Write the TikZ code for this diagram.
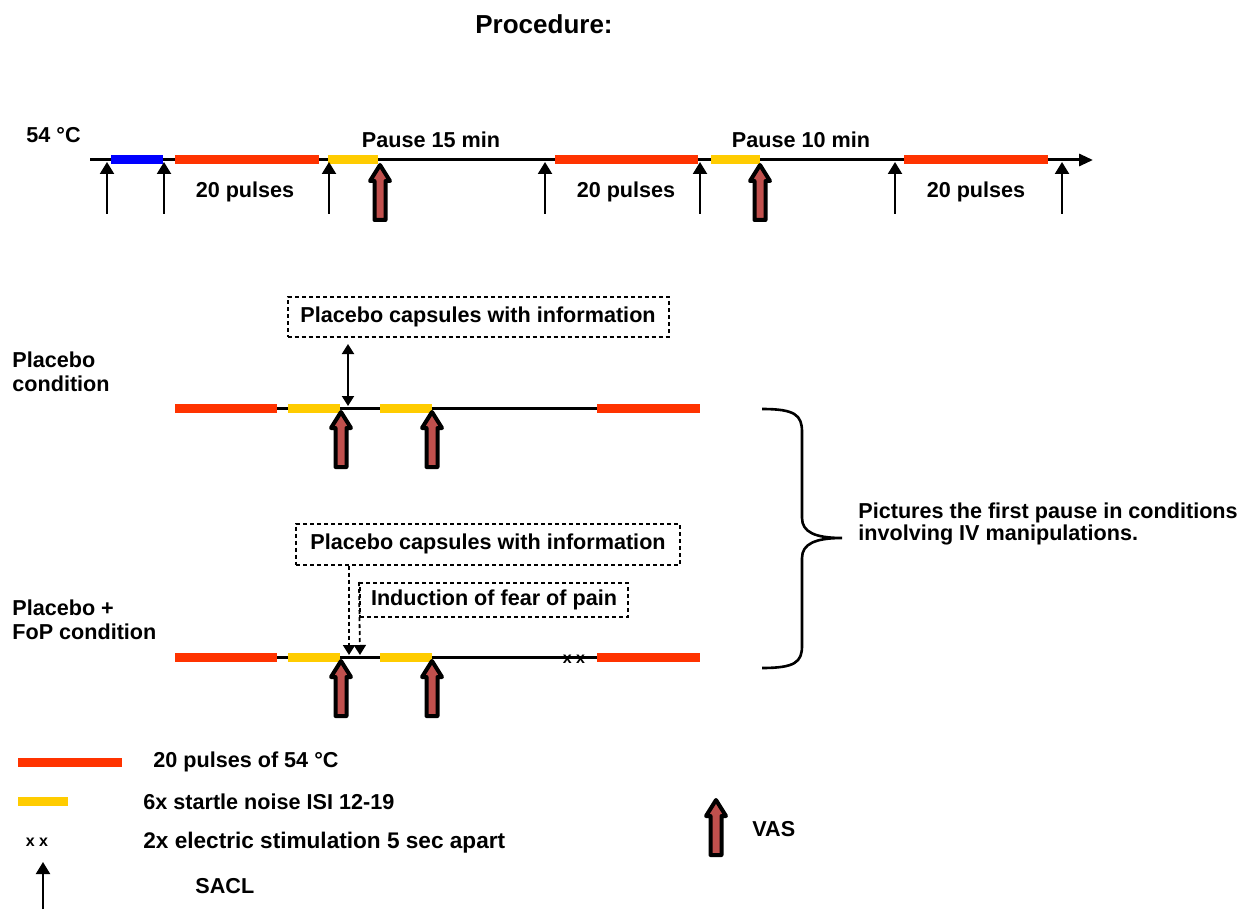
\documentclass[tikz,border=0pt]{standalone}
\usepackage{fontspec}
\setmainfont{Liberation Sans}
\usetikzlibrary{arrows.meta}

\definecolor{pulsered}{RGB}{255,51,0}
\definecolor{noiseyellow}{RGB}{255,204,0}
\definecolor{calibblue}{RGB}{0,0,255}
\definecolor{vasred}{RGB}{192,80,77}

\tikzset{
  timeline/.style={line width=1.5pt},
  pulsebar/.style={line width=4.5pt, draw=pulsered},
  noisebar/.style={line width=4.5pt, draw=noiseyellow},
  calibbar/.style={line width=4.5pt, draw=calibblue},
  sacl/.style={line width=1.1pt, -{Triangle[length=6pt,width=7pt]}},
  lbl/.style={font=\bfseries\fontsize{10.8}{12}\selectfont, inner sep=0pt},
  infobox/.style={lbl, draw, dash pattern=on 2pt off 1.5pt, line width=1pt},
  infoarrow/.style={line width=0.9pt, dash pattern=on 2pt off 1.5pt,
    -{Triangle[length=5pt,width=6pt]}},
  vas/.pic={
    \draw[fill=vasred, line width=2pt, line join=round]
      (0,0) -- (10,16) -- (5.5,16) -- (5.5,55) -- (-5.5,55) -- (-5.5,16) -- (-10,16) -- cycle;
  }
}

\begin{document}
\begin{tikzpicture}[x=0.5pt, y=-0.5pt]
        \useasboundingbox (0,0) rectangle (1251,909);

        % Step 1: title
        \node[lbl, font=\bfseries\fontsize{13}{15}\selectfont] (title) at (544,24) {Procedure:};

        % Step 2: whole session timeline
        \coordinate (t0) at (90,160);
        \coordinate (t1) at (1093,160);
        \draw[timeline, -{Triangle[length=7pt,width=6pt]}] (t0) -- (t1);
        \draw[calibbar] (111,160) -- (163,160);
        \draw[pulsebar] (175,160) -- (319,160);
        \draw[noisebar] (328,160) -- (378,160);
        \draw[pulsebar] (555,160) -- (698,160);
        \draw[noisebar] (711,160) -- (760,160);
        \draw[pulsebar] (904,160) -- (1048,160);
        \node[lbl, anchor=west] (temp) at (26,135) {54 °C};
        \node[lbl] (pause1) at (431,140) {Pause 15 min};
        \node[lbl] (pause2) at (801,140) {Pause 10 min};
        \foreach \x [count=\i] in {245,626,976}
            \node[lbl] (block\i) at (\x,192) {20 pulses};

        % Step 3: SACL and VAS marks on the timeline
        \foreach \x [count=\i] in {107,164,329,545,700,895,1062} {
            \coordinate (sacl\i) at (\x,214);
            \draw[sacl] (sacl\i) -- ++(0,-52);
        }
        \pic at (380,165) {vas};
        \pic at (760,165) {vas};

        % Step 4: placebo condition
        \node[lbl, anchor=west, align=left] (plc) at (12,372) {Placebo\\condition};
        \coordinate (pa) at (175,408);
        \coordinate (pb) at (700,408);
        \draw[timeline] (pa) -- (pb);
        \draw[pulsebar] (175,408) -- (277,408);
        \draw[noisebar] (288,408) -- (340,408);
        \draw[noisebar] (380,408) -- (432,408);
        \draw[pulsebar] (597,408) -- (700,408);
        \pic at (341,412) {vas};
        \pic at (432,412) {vas};
        \node[infobox, minimum width=190.5pt, minimum height=20pt] (caps1) at (478,317)
            {Placebo capsules with information};
        \coordinate (pin1) at (348,406);
        \draw[line width=1pt, {Triangle[length=5pt,width=6pt]}-{Triangle[length=5pt,width=6pt]}]
            (caps1.south -| pin1) ++(0,6) -- (pin1);

        % Step 5: placebo + fear of pain condition
        \node[lbl, anchor=west, align=left] (fop) at (12,620) {Placebo +\\FoP condition};
        \coordinate (fa) at (175,657);
        \coordinate (fb) at (700,657);
        \draw[timeline] (fa) -- (fb);
        \draw[pulsebar] (175,657) -- (277,657);
        \draw[noisebar] (288,657) -- (340,657);
        \draw[noisebar] (380,657) -- (432,657);
        \draw[pulsebar] (597,657) -- (700,657);
        \pic at (341,661) {vas};
        \pic at (432,661) {vas};
        \node[lbl, font=\bfseries\fontsize{8}{8}\selectfont] (shock) at (574,659) {x x};
        \node[infobox, minimum width=192pt, minimum height=20.5pt] (caps2) at (488,544)
            {Placebo capsules with information};
        \node[infobox, minimum width=134pt, minimum height=17pt] (fear) at (494,600)
            {Induction of fear of pain};
        \coordinate (pin2) at (349,655);
        \coordinate (pin3) at (360,655);
        \draw[infoarrow] (caps2.south -| pin2) -- (pin2);
        \draw[infoarrow] (fear.north west) -- (pin3);

        % Step 6: brace with comment
        \draw[line width=1.3pt] (762,409) .. controls (795,409) and (802,415) .. (802,432)
            -- (802,518) .. controls (802,532) and (815,538) .. (842,538)
            .. controls (815,538) and (802,544) .. (802,558)
            -- (802,646) .. controls (802,662) and (795,668) .. (762,668);
        \node[lbl, anchor=west, align=left, font=\bfseries\fontsize{10.8}{9}\selectfont] (note) at (858,524)
            {Pictures the first pause in conditions\\involving IV manipulations.};

        % Step 7: legend
        \draw[pulsebar] (18,762) -- (122,762);
        \node[lbl, anchor=west] (leg1) at (153,762) {20 pulses of 54 °C};
        \draw[noisebar] (18,801) -- (68,801);
        \node[lbl, anchor=west] (leg2) at (143,802) {6x startle noise ISI 12-19};
        \node[lbl, font=\bfseries\fontsize{8}{8}\selectfont] (legx) at (37,842) {x x};
        \node[lbl, anchor=west, font=\bfseries\fontsize{11.3}{12}\selectfont] (leg3) at (143,843)
            {2x electric stimulation 5 sec apart};
        \coordinate (legs) at (43,909);
        \draw[sacl] (legs) -- ++(0,-47);
        \node[lbl, anchor=west] (leg4) at (195,886) {SACL};
        \pic at (716,800) {vas};
        \node[lbl, anchor=west] (leg5) at (752,829) {VAS};
\end{tikzpicture}
\end{document}
